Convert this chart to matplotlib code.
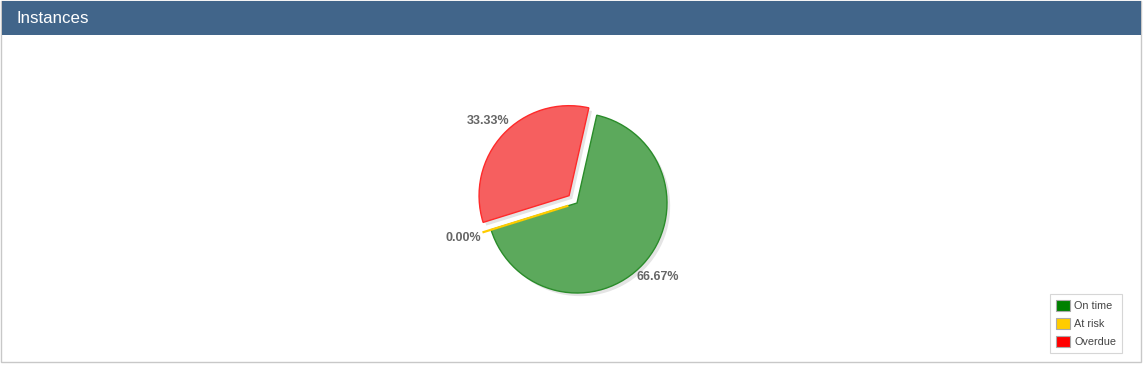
import matplotlib.pyplot as plt
from matplotlib.patches import Rectangle, Patch

plt.rcParams['font.family'] = ['Liberation Sans', 'DejaVu Sans']

categories = ["On time", "At risk", "Overdue"]
values = [66.67, 0.0, 33.33]
legend_colors = ["#008000", "#FFCC00", "#FF0000"]
face_colors = ["#5CA95C", "#FFCC00", "#F65F5F"]
edge_colors = ["#2A8C2A", "#FFCC00", "#FF2A2A"]
explode = [0.0, 0.1, 0.12]

W, H = 1144, 365
fig = plt.figure(figsize=(W / 100, H / 100), dpi=100)


def fx(x):
    return x / W


def fy(y):
    return 1 - y / H


# panel border and header bar
fig.patches.append(Rectangle((fx(1), fy(362)), fx(1141) - fx(1), fy(0.5) - fy(362),
                             transform=fig.transFigure, facecolor="white",
                             edgecolor="#c8c8c8", lw=1, zorder=0))
fig.patches.append(Rectangle((fx(1.5), fy(34.5)), fx(1141) - fx(1.5), fy(1) - fy(34.5),
                             transform=fig.transFigure, facecolor="#41658A",
                             edgecolor="none", zorder=1))
fig.text(fx(16), fy(18.5), "Instances", color="white", fontsize=12.2,
         va="center", ha="left")

# pie axes: center (577, 203), radius 90 px
cx, cy, r = 577, 203, 90
half = 111
ax = fig.add_axes([fx(cx - half), fy(cy + half), 2 * half / W, 2 * half / H])
ax.set_zorder(3)
ax.patch.set_alpha(0)

# soft shadow
ax.pie(values, explode=explode, startangle=77.3, counterclock=False,
       colors=["#e4e4e4"] * 3, center=(0.035, -0.035), radius=1.0,
       wedgeprops=dict(linewidth=0), frame=True)

wedges, texts, autotexts = ax.pie(
    values, explode=explode, startangle=77.3, counterclock=False,
    colors=face_colors, autopct="%.2f%%", pctdistance=1.22, radius=1.0,
    textprops=dict(color="#666666", fontsize=9, fontweight="bold"),
    frame=True)
for w, ec in zip(wedges, edge_colors):
    w.set_edgecolor(ec)
    w.set_linewidth(1.0)
wedges[1].set_linewidth(1.6)

ax.set_xlim(-half / r, half / r)
ax.set_ylim(-half / r, half / r)
ax.set_aspect("equal")
ax.axis("off")

handles = [Patch(facecolor=c, edgecolor="#aaaaaa", linewidth=0.8, label=l)
           for c, l in zip(legend_colors, categories)]
leg = fig.legend(handles=handles, loc="lower right",
                 bbox_to_anchor=(fx(1122), fy(353)), fontsize=7.8,
                 frameon=True, fancybox=False, borderaxespad=0,
                 handlelength=1.25, handleheight=1.2, labelspacing=0.62,
                 handletextpad=0.4, borderpad=0.55)
leg.set_zorder(5)
leg.get_frame().set_edgecolor("#cccccc")
leg.get_frame().set_linewidth(0.8)
for t in leg.get_texts():
    t.set_color("#444444")

fig.savefig("out.png", dpi=100)
